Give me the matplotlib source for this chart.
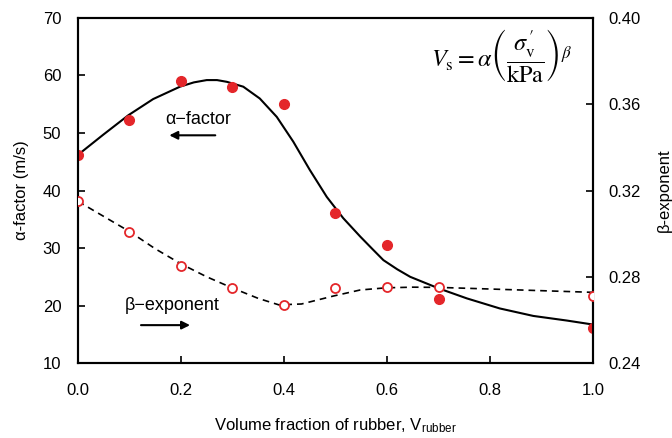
import matplotlib
matplotlib.use("Agg")
import matplotlib.pyplot as plt

plt.rcParams['font.family'] = ['Liberation Sans', 'DejaVu Sans']
plt.rcParams['mathtext.fontset'] = 'stix'

# === measured points ===
v_rubber = [0.0, 0.1, 0.2, 0.3, 0.4, 0.5, 0.6, 0.7, 1.0]
alpha = [46.2, 52.3, 59.0, 58.0, 55.0, 36.1, 30.5, 21.2, 16.1]
beta = [0.315, 0.301, 0.285, 0.275, 0.267, 0.275, 0.2755, 0.2755, 0.271]

# === fitted curves ===
x_alpha_fit = [0.0, 0.049, 0.098, 0.146, 0.198, 0.225, 0.25, 0.27, 0.289, 0.321, 0.353,
               0.386, 0.418, 0.45, 0.483, 0.515, 0.548, 0.572, 0.593, 0.62, 0.645, 0.70, 0.755,
               0.819, 0.884, 0.949, 1.0]
alpha_fit = [46.2, 49.7, 53.1, 55.9, 58.05, 58.8, 59.2, 59.2, 58.9, 58.05, 56.0,
             52.8, 48.5, 43.6, 38.9, 35.2, 32.0, 29.8, 27.9, 26.3, 25.0, 23.0, 21.25,
             19.5, 18.2, 17.4, 16.7]
x_beta_fit = [0.0, 0.05, 0.1, 0.15, 0.2, 0.25, 0.3, 0.35, 0.39, 0.434, 0.496, 0.548,
              0.598, 0.65, 0.70, 0.819, 1.0]
beta_fit = [0.315, 0.308, 0.301, 0.293, 0.286, 0.280, 0.2748, 0.2700, 0.2670, 0.2674, 0.2711, 0.2739,
            0.2749, 0.2752, 0.2751, 0.2742, 0.2728]

red = '#e4262a'

fig = plt.figure(figsize=(6.72, 4.38), dpi=100)
ax = fig.add_axes([0.116, 0.171, 0.7665, 0.788])
ax2 = ax.twinx()

ax.plot(x_alpha_fit, alpha_fit, color='black', lw=1.5, zorder=2)
ax.plot(v_rubber, alpha, 'o', color=red, ms=7, mec=red, zorder=3)
ax2.plot(x_beta_fit, beta_fit, color='black', lw=1.2, ls=(0, (4, 3)), zorder=2)
ax2.plot(v_rubber, beta, 'o', mfc='white', mec=red, mew=1.3, ms=6.5, zorder=3)

ax.set_xlim(0, 1)
ax.set_ylim(10, 70)
ax2.set_ylim(0.24, 0.40)
ax.set_xticks([0, 0.2, 0.4, 0.6, 0.8, 1.0])
ax.set_xticklabels(['0.0', '0.2', '0.4', '0.6', '0.8', '1.0'])
ax.set_yticks(range(10, 71, 10))
ax2.set_yticks([0.24, 0.28, 0.32, 0.36, 0.40])
ax2.set_yticklabels(['0.24', '0.28', '0.32', '0.36', '0.40'])

for a in (ax, ax2):
    a.tick_params(direction='in', length=5, width=1.2, labelsize=12, pad=12)
    for s in a.spines.values():
        s.set_linewidth(1.5)
ax.tick_params(axis='x', pad=14)
ax2.tick_params(axis='y', pad=11)

ax.set_xlabel('Volume fraction of rubber, V$_{\\mathregular{rubber}}$', fontsize=12, labelpad=14)
ax.set_ylabel('α-factor (m/s)', fontsize=12, labelpad=10)
ax2.set_ylabel('β-exponent', fontsize=12, labelpad=12)

ax.text(0.233, 52.3, 'α−factor', fontsize=13, ha='center', va='center')
ax.annotate('', xy=(0.172, 49.6), xytext=(0.272, 49.6),
            arrowprops=dict(arrowstyle='-|>', color='black', lw=1.5, mutation_scale=12))
ax.text(0.183, 20.0, 'β−exponent', fontsize=13, ha='center', va='center')
ax.annotate('', xy=(0.223, 16.6), xytext=(0.117, 16.6),
            arrowprops=dict(arrowstyle='-|>', color='black', lw=1.5, mutation_scale=12))

ax.text(0.823, 63.5, r'$V_{\mathrm{s}} = \alpha\left(\dfrac{\sigma_{\mathrm{v}}^{\,\prime}}{\mathrm{kPa}}\right)^{\beta}$',
        fontsize=17.5, ha='center', va='center')

fig.savefig('out.png', dpi=100)
